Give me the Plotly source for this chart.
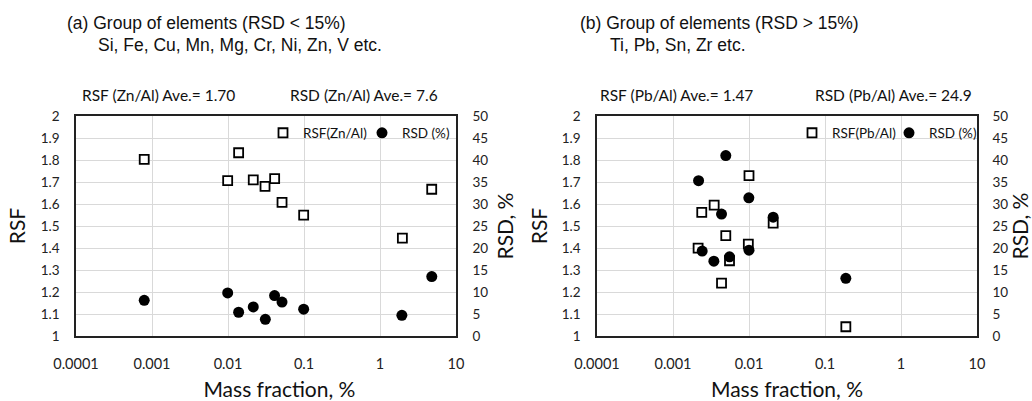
import plotly.graph_objects as go
from plotly.subplots import make_subplots

# ---- data (a) ----
a_mass = [0.00079, 0.0138, 0.0099, 0.0215, 0.0307, 0.0411, 0.0514, 0.099, 1.97, 4.79]
a_rsf = [1.803, 1.833, 1.706, 1.710, 1.680, 1.715, 1.607, 1.549, 1.445, 1.667]
a_rsd_mass = [0.00079, 0.0099, 0.0138, 0.0215, 0.031, 0.041, 0.0514, 0.099, 1.94, 4.8]
a_rsd = [8.1, 9.8, 5.4, 6.6, 3.8, 9.2, 7.7, 6.1, 4.7, 13.5]

# ---- data (b) ----
b_mass = [0.0100, 0.00348, 0.00239, 0.0208, 0.00495, 0.0098, 0.00214, 0.00554, 0.00435, 0.188]
b_rsf = [1.729, 1.595, 1.562, 1.513, 1.456, 1.418, 1.399, 1.342, 1.240, 1.042]
b_rsd_mass = [0.00495, 0.00217, 0.00995, 0.00435, 0.0208, 0.00242, 0.00345, 0.00554, 0.0100, 0.188]
b_rsd = [41.0, 35.3, 31.4, 27.7, 27.0, 19.3, 17.0, 18.0, 19.5, 13.1]

x_tickvals = [0.0001, 0.001, 0.01, 0.1, 1, 10]
x_ticktext = ["0.0001", "0.001", "0.01", "0.1", "1", "10"]

FONT_C = "Lato"
FONT_A = "Liberation Sans, Arial"
GRID = "#d9d9d9"

fig = make_subplots(rows=1, cols=2, specs=[[{"secondary_y": True}, {"secondary_y": True}]])

sq = dict(symbol="square", size=9, color="white", line=dict(color="black", width=1.8))
ci = dict(symbol="circle", size=11, color="black", line=dict(width=0))

fig.add_trace(go.Scatter(x=a_mass, y=a_rsf, mode="markers", marker=sq, name="RSF(Zn/Al)",
                         legend="legend"), row=1, col=1, secondary_y=False)
fig.add_trace(go.Scatter(x=a_rsd_mass, y=a_rsd, mode="markers", marker=ci, name="RSD (%)",
                         legend="legend"), row=1, col=1, secondary_y=True)
fig.add_trace(go.Scatter(x=b_mass, y=b_rsf, mode="markers", marker=sq, name="RSF(Pb/Al)",
                         legend="legend2"), row=1, col=2, secondary_y=False)
fig.add_trace(go.Scatter(x=b_rsd_mass, y=b_rsd, mode="markers", marker=ci, name="RSD (%)",
                         legend="legend2"), row=1, col=2, secondary_y=True)

W, H = 1032, 401
def px(x):
    return x / W
def py(y):
    return 1 - y / H

dom_a = [px(76), px(456)]
dom_b = [px(597), px(977)]
ydom = [py(336), py(116)]

tickfont = dict(family=FONT_C, size=13.5, color="#222")
titlefont = dict(family=FONT_C, size=21, color="#111")

for xa, dom, ttl in (("xaxis", dom_a, "&nbsp;&nbsp;&nbsp;&nbsp;&nbsp;Mass fraction, %"),
                     ("xaxis2", dom_b, "Mass fraction, %")):
    fig.layout[xa].update(type="log", range=[-4, 1], domain=dom, tickvals=x_tickvals,
                          ticktext=x_ticktext, showgrid=True, gridcolor=GRID, gridwidth=1,
                          showline=True, linecolor="#222", linewidth=1.6, mirror=True,
                          ticks="", tickfont=dict(family=FONT_C, size=14.5, color="#222"),
                          ticklabelstandoff=14, zeroline=False, automargin=False,
                          title=dict(text=ttl, font=titlefont, standoff=11))

fig.update_yaxes(range=[1, 2], dtick=0.1, showgrid=True, gridcolor=GRID, gridwidth=1,
                 showline=True, linecolor="#222", linewidth=1.6, mirror=True, ticks="",
                 tickfont=tickfont, ticklabelstandoff=12, zeroline=False, automargin=False,
                 title=dict(text="RSF", font=titlefont, standoff=9), secondary_y=False)
fig.update_yaxes(range=[0, 50], dtick=5, showgrid=False, showline=True, linecolor="#222",
                 linewidth=1.6, ticks="", tickfont=tickfont, ticklabelstandoff=12, zeroline=False,
                 automargin=False,
                 title=dict(text="RSD, %", font=titlefont, standoff=11), secondary_y=True)
fig.layout.yaxis3.title.standoff = 8
fig.layout.yaxis4.ticklabelstandoff = 11
fig.layout.yaxis4.title.standoff = 23

for ya in ("yaxis", "yaxis2", "yaxis3", "yaxis4"):
    fig.layout[ya].domain = ydom

legfont = dict(family=FONT_C, size=13.5, color="#111")
fig.update_layout(
    width=W, height=H,
    margin=dict(l=0, r=0, t=0, b=0, autoexpand=False),
    paper_bgcolor="white", plot_bgcolor="white",
    showlegend=True,
    legend=dict(orientation="h", x=px(263), y=py(133), xanchor="left", yanchor="middle",
                bgcolor="rgba(0,0,0,0)", font=legfont, itemwidth=30, tracegroupgap=0,
                entrywidth=54),
    legend2=dict(orientation="h", x=px(792), y=py(133), xanchor="left", yanchor="middle",
                 bgcolor="rgba(0,0,0,0)", font=legfont, itemwidth=30, tracegroupgap=0,
                 entrywidth=52),
)

head = dict(family=FONT_A, size=17.5, color="#111")
sub = dict(family=FONT_C, size=15.5, color="#111")
ann = [
    (65, 23, "(a) Group of elements (RSD < 15%)", head),
    (96, 45, "Si, Fe, Cu, Mn, Mg, Cr, Ni, Zn, V etc.", head),
    (80, 95, "RSF (Zn/Al) Ave.= 1.70", sub),
    (288, 95, "RSD (Zn/Al) Ave.= 7.6", sub),
    (578, 23, "(b) Group of elements (RSD > 15%)", head),
    (608, 45, "Ti, Pb, Sn, Zr etc.", head),
    (598, 95, "RSF (Pb/Al) Ave.= 1.47", sub),
    (813, 95, "RSD (Pb/Al) Ave.= 24.9", sub),
]
for x, y, t, f in ann:
    fig.add_annotation(x=px(x), y=py(y), xref="paper", yref="paper", text=t, showarrow=False,
                       xanchor="left", yanchor="middle", font=f)

fig.write_html("out.html", config={"displayModeBar": False},
               post_script="document.body.style.margin='0';document.body.style.overflow='hidden';")
